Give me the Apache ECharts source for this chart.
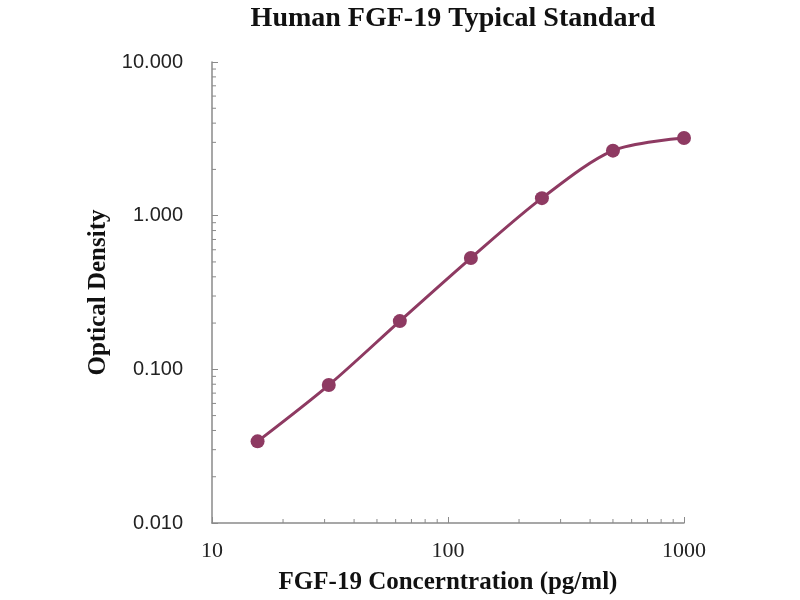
<!DOCTYPE html>
<html>
<head>
<meta charset="utf-8">
<script src="https://cdn.jsdelivr.net/npm/echarts@6/dist/echarts.min.js"></script>
<style>
  html, body { margin: 0; padding: 0; background: #fff; }
  #chart { width: 800px; height: 600px; }
</style>
</head>
<body>
<div id="chart"></div>
<script>
// standard curve points
var concentration = [15.6, 31.25, 62.5, 125, 250, 500, 1000];
var opticalDensity = [0.034, 0.079, 0.206, 0.53, 1.30, 2.65, 3.20];

// axis ranges
var xRange = [10, 1000];
var yRange = [0.01, 10];

// minor ticks (2..9 of each decade)
var xMinorTicks = [20, 30, 40, 50, 60, 70, 80, 90, 200, 300, 400, 500, 600, 700, 800, 900];
var yMinorTicks = [0.02, 0.03, 0.04, 0.05, 0.06, 0.07, 0.08, 0.09,
                   0.2, 0.3, 0.4, 0.5, 0.6, 0.7, 0.8, 0.9,
                   2, 3, 4, 5, 6, 7, 8, 9];

var chart = echarts.init(document.getElementById('chart'));

var serif = '"Liberation Serif", "Times New Roman", serif';
var sans = '"Liberation Sans", Arial, sans-serif';
var axisColor = '#8a8a8a';
var lineColor = '#8e3a62';

function minorTickSeries(values, isX) {
  return {
    type: 'custom',
    silent: true,
    clip: false,
    z: 5,
    data: values.map(function (v) { return [v]; }),
    renderItem: function (params, api) {
      var v = api.value(0);
      var p = isX ? api.coord([v, yRange[0]]) : api.coord([xRange[0], v]);
      var shape = isX
        ? { x1: p[0], y1: p[1], x2: p[0], y2: p[1] - 4 }
        : { x1: p[0], y1: p[1], x2: p[0] + 4, y2: p[1] };
      return { type: 'line', shape: shape, style: { stroke: axisColor, lineWidth: 1 } };
    }
  };
}

var option = {
  backgroundColor: '#fff',
  animation: false,
  title: {
    text: 'Human FGF-19 Typical Standard',
    left: 448,
    textAlign: 'center',
    top: 0,
    textStyle: { fontFamily: serif, fontWeight: 'bold', fontSize: 28, color: '#111' }
  },
  grid: { left: 212, right: 116, top: 62, bottom: 75 },
  xAxis: {
    type: 'log',
    logBase: 10,
    min: xRange[0],
    max: xRange[1],
    name: 'FGF-19 Concerntration (pg/ml)',
    nameLocation: 'middle',
    nameGap: 47,
    nameTextStyle: { fontFamily: serif, fontWeight: 'bold', fontSize: 25, color: '#111' },
    axisLine: { lineStyle: { color: axisColor, width: 1.5 } },
    axisTick: { inside: true, length: 6, lineStyle: { color: axisColor } },
    axisLabel: {
      fontFamily: serif, fontSize: 22, color: '#222', margin: 17,
      formatter: function (v) { return String(v); }
    },
    splitLine: { show: false }
  },
  yAxis: {
    type: 'log',
    logBase: 10,
    min: yRange[0],
    max: yRange[1],
    name: 'Optical Density',
    nameLocation: 'middle',
    nameGap: 100,
    nameTextStyle: { fontFamily: serif, fontWeight: 'bold', fontSize: 25, color: '#111' },
    axisLine: { show: true, lineStyle: { color: axisColor, width: 1.5 } },
    axisTick: { show: true, inside: true, length: 6, lineStyle: { color: axisColor } },
    axisLabel: {
      fontFamily: sans, fontSize: 20, color: '#222', margin: 29,
      formatter: function (v) { return v.toFixed(3); }
    },
    splitLine: { show: false }
  },
  series: [
    {
      type: 'line',
      data: concentration.map(function (x, i) { return [x, opticalDensity[i]]; }),
      smooth: 0.3,
      symbol: 'circle',
      symbolSize: 14,
      lineStyle: { color: lineColor, width: 3 },
      itemStyle: { color: lineColor },
      z: 10
    },
    minorTickSeries(xMinorTicks, true),
    minorTickSeries(yMinorTicks, false)
  ]
};

chart.setOption(option);
</script>
</body>
</html>
